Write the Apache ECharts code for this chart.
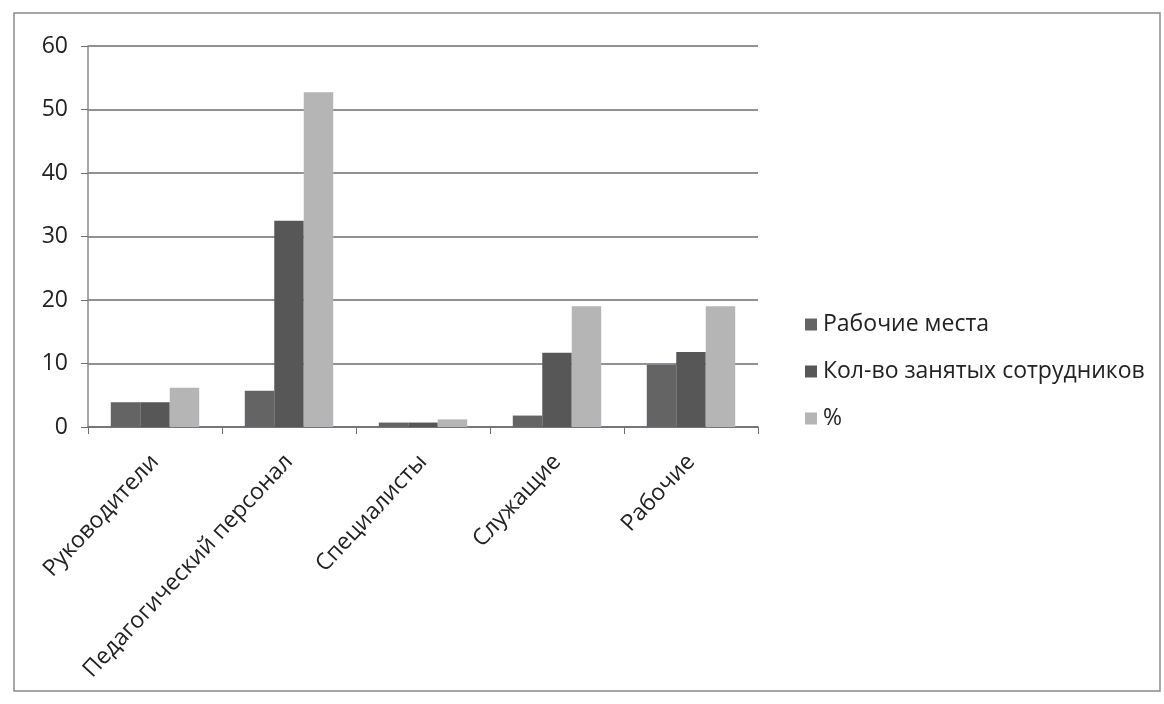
<!DOCTYPE html>
<html>
<head>
<meta charset="utf-8">
<script src="https://cdn.jsdelivr.net/npm/echarts@6/dist/echarts.min.js"></script>
<style>
  html, body { margin: 0; padding: 0; background: #fff; }
  #chart { width: 1164px; height: 704px; }
</style>
</head>
<body>
<div id="chart"></div>
<script>
  // data
  var categories = ['Руководители', 'Педагогический персонал', 'Специалисты', 'Служащие', 'Рабочие'];
  var workplaces = [3.9, 5.7, 0.7, 1.8, 9.8];
  var employees = [3.9, 32.5, 0.7, 11.7, 11.8];
  var percent = [6.2, 52.7, 1.2, 19, 19];
  var seriesNames = ['Рабочие места', 'Кол-во занятых сотрудников', '%'];
  var colors = ['#646464', '#575757', '#b5b5b5'];

  var font = '"Open Sans", "Noto Sans", sans-serif';
  var chart = echarts.init(document.getElementById('chart'));

  var option = {
    backgroundColor: '#ffffff',
    animation: false,
    color: colors,
    graphic: [{
      type: 'rect',
      shape: { x: 14, y: 13, width: 1146, height: 678 },
      style: { fill: 'none', stroke: '#8a8a8a', lineWidth: 1.5 },
      silent: true
    }],
    grid: { left: 88, right: 406, top: 46, bottom: 277 },
    legend: {
      orient: 'vertical',
      left: 800,
      top: 308,
      itemWidth: 12,
      itemHeight: 12,
      itemGap: 24,
      icon: 'rect',
      data: seriesNames,
      textStyle: { fontFamily: font, fontSize: 23, color: '#222', padding: [0, 0, 0, 1] }
    },
    xAxis: {
      type: 'category',
      data: categories,
      axisLine: { lineStyle: { color: '#6c6c7a', width: 1.5 } },
      axisTick: { show: true, length: 7, lineStyle: { color: '#6c6c7a' } },
      axisLabel: {
        rotate: 47,
        margin: 31,
        interval: 0,
        fontFamily: font,
        fontSize: 23,
        color: '#222'
      }
    },
    yAxis: {
      type: 'value',
      min: 0,
      max: 60,
      interval: 10,
      axisLine: { show: true, lineStyle: { color: '#8a8a8a', width: 1.5 } },
      axisTick: { show: true, length: 7, lineStyle: { color: '#6c6c7a' } },
      axisLabel: { margin: 20, fontFamily: font, fontSize: 23, color: '#222' },
      splitLine: { lineStyle: { color: '#6c6c7a', width: 1.5 } }
    },
    series: [
      { name: seriesNames[0], type: 'bar', data: workplaces, barGap: '0%', barCategoryGap: '34%' },
      { name: seriesNames[1], type: 'bar', data: employees, barGap: '0%', barCategoryGap: '34%' },
      { name: seriesNames[2], type: 'bar', data: percent, barGap: '0%', barCategoryGap: '34%' }
    ]
  };

  chart.setOption(option);
</script>
</body>
</html>
